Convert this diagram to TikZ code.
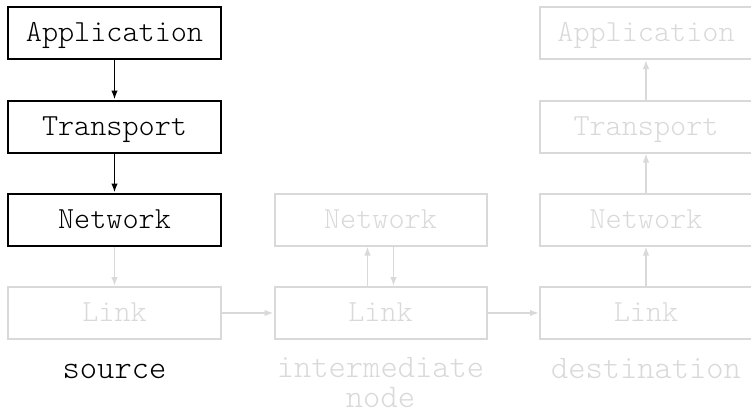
\documentclass[tikz,border=0pt]{standalone}
\usepackage{fontspec}
\setmonofont{Latin Modern Mono Light}
\usetikzlibrary{arrows.meta}

\definecolor{faded}{gray}{0.85}

\tikzset{
  layer/.style={draw, line width=2bp, minimum width=212bp, minimum height=52bp,
    inner sep=0pt, text height=17bp, text depth=0pt,
    font=\ttfamily\fontsize{30.8}{34}\selectfont},
  active/.style={layer, draw=black, text=black},
  idle/.style={layer, draw=faded, text=faded},
  flow/.style={line width=1.5bp, -{Latex[length=9bp,width=6.5bp]}},
  flowon/.style={flow, draw=black},
  flowoff/.style={flow, draw=faded},
  caption/.style={anchor=base, align=center, inner sep=0pt,
    font=\ttfamily\fontsize{33}{30}\selectfont}
}

\begin{document}
\begin{tikzpicture}[x=1bp, y=1bp]
  \useasboundingbox (0,0) rectangle (751,413);

  % source host
  \node[active] (app1) at (114.5,380)   {Application};
  \node[active] (tra1) at (114.5,286.5) {Transport};
  \node[active] (net1) at (114.5,193.5) {Network};
  \node[idle]   (lnk1) at (114.5,100)   {Link};

  % intermediate node
  \node[idle] (net2) at (380.5,193.5) {Network};
  \node[idle] (lnk2) at (380.5,100)   {Link};

  % destination host
  \node[idle] (app3) at (646,380)   {Application};
  \node[idle] (tra3) at (646,286.5) {Transport};
  \node[idle] (net3) at (646,193.5) {Network};
  \node[idle] (lnk3) at (646,100)   {Link};

  % captions (a two-line caption sits on the baseline of its last line)
  \node[caption, text=black] (capsrc) at (114.5,35) {source};
  \node[caption, text=faded] (capmid) at (380.5,6)  {intermediate\\node};
  \node[caption, text=faded] (capdst) at (646,35)   {destination};

  % down the source stack
  \draw[flowon]  (app1.south) -- (tra1.north);
  \draw[flowon]  (tra1.south) -- (net1.north);
  \draw[flowoff] (net1.south) -- (lnk1.north);

  % across the links
  \draw[flowoff] (lnk1.east) -- (lnk2.west);
  \draw[flowoff] (lnk2.east) -- (lnk3.west);

  % through the intermediate node
  \draw[flowoff] ([xshift=-13bp]lnk2.north) -- ([xshift=-13bp]net2.south);
  \draw[flowoff] ([xshift=13bp]net2.south) -- ([xshift=13bp]lnk2.north);

  % up the destination stack
  \draw[flowoff] (lnk3.north) -- (net3.south);
  \draw[flowoff] (net3.north) -- (tra3.south);
  \draw[flowoff] (tra3.north) -- (app3.south);
\end{tikzpicture}
\end{document}
